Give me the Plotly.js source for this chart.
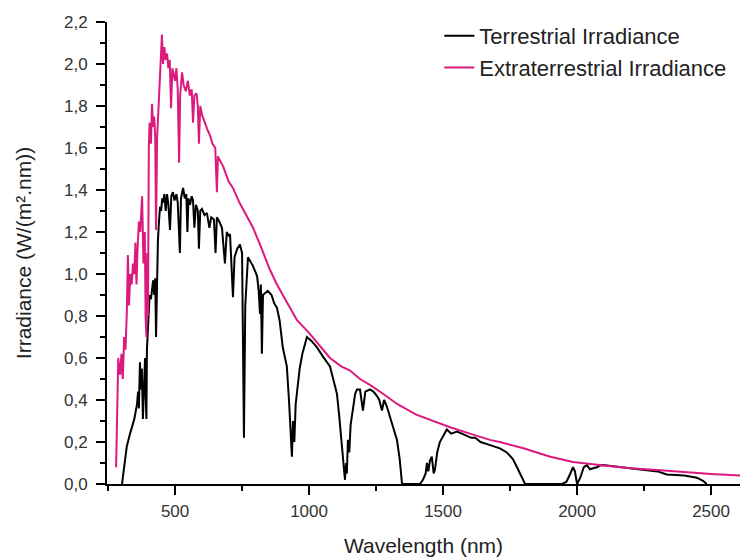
<!DOCTYPE html>
<html>
<head>
<meta charset="utf-8">
<script src="https://cdn.plot.ly/plotly-3.0.1.min.js"></script>
<style>html,body{margin:0;padding:0;background:#fff;}#chart{width:740px;height:558px;}</style>
</head>
<body>
<div id="chart"></div>
<script>
const seriesNames = ["Terrestrial Irradiance", "Extraterrestrial Irradiance"];

const extWavelength = [280,285,288,295,300,305,310,315,320,324,328,333,338,343,348,352,356,360,365,370,377,382,387,390,393,396,399,402,405,410,414,418,422,426,429,433,438,442,447,451,455,460,465,470,475,480,485,490,495,500,505,510,515,519,526,532,540,548,555,562,567,572,580,585,589,594,600,610,620,630,640,650,656,660,680,700,716,740,760,791,820,854,880,920,955,1000,1040,1078,1120,1153,1190,1230,1276,1330,1400,1460,1526,1600,1675,1712,1800,1900,1985,2100,2200,2298,2400,2500,2608];
const extIrradiance = [0.08,0.35,0.60,0.52,0.62,0.50,0.70,0.64,0.82,1.09,0.85,1.00,0.95,1.05,1.00,1.15,0.95,1.12,1.25,1.20,1.37,1.05,1.20,0.80,0.70,1.10,0.80,1.60,1.72,1.62,1.81,1.70,1.75,1.65,1.21,1.65,1.78,1.92,2.05,2.14,2.00,2.08,2.02,2.05,1.98,2.02,1.79,1.98,1.95,1.92,1.98,1.88,1.53,1.85,1.96,1.90,1.87,1.92,1.85,1.88,1.72,1.85,1.86,1.80,1.62,1.80,1.76,1.72,1.69,1.66,1.62,1.60,1.39,1.56,1.51,1.44,1.41,1.34,1.29,1.22,1.13,1.02,0.95,0.86,0.78,0.72,0.66,0.60,0.56,0.54,0.50,0.47,0.43,0.38,0.33,0.30,0.27,0.24,0.21,0.20,0.17,0.13,0.105,0.088,0.075,0.067,0.056,0.048,0.040];

const terWavelength = [302,310,320,332,340,348,358,362,365,369,372,376,380,384,388,391,393,395,400,405,410,414,418,422,426,429,432,436,440,444,448,452,455,460,465,470,475,481,486,492,498,505,510,514,518,522,530,536,542,546,550,556,562,567,572,578,585,589,594,600,610,619,628,635,645,651,656,665,675,686,693,700,705,716,722,732,742,750,757,762,772,790,806,812,817,820,824,828,846,860,870,880,890,902,910,917,925,930,936,940,945,950,955,965,975,985,992,1010,1030,1050,1078,1090,1104,1112,1118,1123,1128,1134,1138,1141,1145,1150,1155,1164,1172,1179,1190,1201,1210,1227,1240,1253,1262,1272,1280,1290,1300,1310,1320,1328,1338,1347,1414,1425,1435,1440,1445,1451,1458,1465,1470,1478,1488,1500,1514,1530,1552,1570,1589,1605,1620,1640,1664,1690,1712,1738,1760,1776,1790,1806,1944,1960,1975,1985,1992,2000,2012,2025,2037,2048,2060,2074,2085,2097,2150,2200,2250,2300,2335,2400,2447,2470,2484];
const terIrradiance = [0,0.08,0.18,0.24,0.27,0.31,0.38,0.44,0.36,0.58,0.45,0.55,0.31,0.52,0.60,0.40,0.31,0.64,0.75,0.90,0.88,0.94,0.97,0.90,0.98,0.70,1.00,1.16,1.25,1.32,1.30,1.36,1.34,1.38,1.30,1.38,1.33,1.21,1.37,1.39,1.35,1.38,1.34,1.20,1.10,1.36,1.41,1.36,1.38,1.20,1.36,1.33,1.37,1.35,1.22,1.33,1.30,1.12,1.30,1.31,1.28,1.29,1.22,1.27,1.26,1.10,1.27,1.25,1.22,1.05,1.20,1.18,1.19,0.89,1.08,1.12,1.14,1.10,0.22,0.85,1.08,1.04,0.99,0.92,0.81,0.95,0.62,0.90,0.92,0.90,0.86,0.84,0.78,0.65,0.60,0.56,0.40,0.25,0.13,0.30,0.20,0.38,0.43,0.55,0.62,0.67,0.70,0.68,0.65,0.61,0.56,0.50,0.43,0.33,0.25,0.18,0.08,0.02,0.10,0.05,0.21,0.15,0.28,0.37,0.43,0.45,0.45,0.35,0.44,0.45,0.44,0.42,0.40,0.35,0.40,0.37,0.33,0.28,0.24,0.21,0.12,0,0,0.02,0.05,0.10,0.06,0.11,0.13,0.05,0.07,0.15,0.20,0.23,0.26,0.24,0.25,0.24,0.23,0.22,0.22,0.20,0.19,0.18,0.17,0.15,0.12,0.08,0.04,0,0,0.01,0.05,0.08,0.06,0,0.03,0.08,0.09,0.07,0.075,0.08,0.088,0.09,0.082,0.074,0.068,0.060,0.045,0.040,0.030,0.015,0];

const FONT = '"Liberation Sans", Arial, sans-serif';
const traces = [
  {x: terWavelength, y: terIrradiance, name: seriesNames[0], type: 'scatter', mode: 'lines',
   line: {color: '#000000', width: 2}},
  {x: extWavelength, y: extIrradiance, name: seriesNames[1], type: 'scatter', mode: 'lines',
   line: {color: '#dc1a7e', width: 2}}
];

const layout = {
  width: 740, height: 558,
  margin: {l: 107, r: 0, t: 22, b: 74, autoexpand: false},
  paper_bgcolor: '#ffffff', plot_bgcolor: '#ffffff',
  font: {family: FONT, color: '#2a2a2a', size: 17},
  separators: ', ',
  showlegend: true,
  legend: {x: 0.525, y: 1.015, xanchor: 'left', yanchor: 'top', bgcolor: 'rgba(0,0,0,0)',
           tracegroupgap: 0,
           font: {family: FONT, size: 22, color: '#222'}},
  xaxis: {
    range: [246, 2608], showgrid: false, zeroline: false,
    showline: true, linecolor: '#000', linewidth: 2,
    ticks: 'outside', ticklen: 9, tickwidth: 2, tickcolor: '#000',
    tick0: 500, dtick: 500, ticklabelstandoff: 2,
    minor: {ticks: 'outside', ticklen: 5, tickwidth: 2, tickcolor: '#000', dtick: 250, tick0: 250},
    tickfont: {family: FONT, size: 17, color: '#333'},
    title: {text: 'Wavelength (nm)', font: {family: FONT, size: 21, color: '#222'}, standoff: 18}
  },
  yaxis: {
    range: [0, 2.2], showgrid: false, zeroline: false,
    showline: true, linecolor: '#000', linewidth: 2,
    ticks: 'outside', ticklen: 9, tickwidth: 2, tickcolor: '#000',
    tick0: 0, dtick: 0.2, tickformat: '.1f', ticklabelstandoff: 5,
    minor: {ticks: 'outside', ticklen: 5, tickwidth: 2, tickcolor: '#000', dtick: 0.1},
    tickfont: {family: FONT, size: 17, color: '#333'},
    title: {text: 'Irradiance (W/(m².nm))', font: {family: FONT, size: 21, color: '#222'}, standoff: 27}
  }
};

Plotly.newPlot('chart', traces, layout, {displayModeBar: false, staticPlot: true});
</script>
</body>
</html>
